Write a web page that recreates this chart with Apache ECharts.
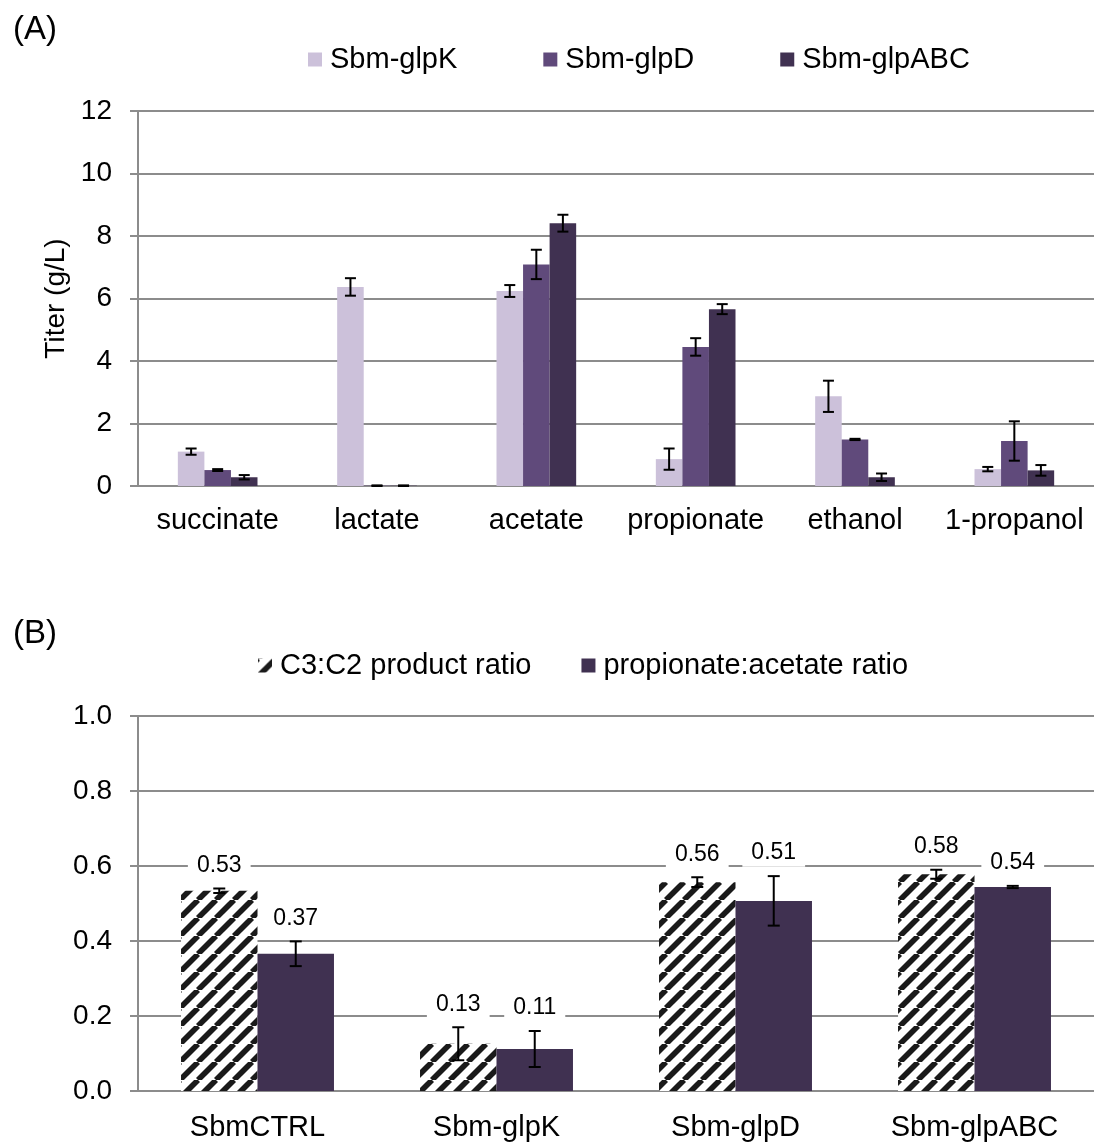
<!DOCTYPE html>
<html>
<head>
<meta charset="utf-8">
<script src="https://cdn.jsdelivr.net/npm/echarts@6/dist/echarts.min.js"></script>
<style>
  html, body { margin: 0; padding: 0; background: #fff; }
  #chart { width: 1094px; height: 1143px; }
</style>
</head>
<body>
<div id="chart"></div>
<script>
// ---- Panel (A): product titers (g/L) ----
const products = ['succinate', 'lactate', 'acetate', 'propionate', 'ethanol', '1-propanol'];
const strainsA = ['Sbm-glpK', 'Sbm-glpD', 'Sbm-glpABC'];
const titerGlpK   = [1.10, 6.37, 6.24, 0.86, 2.87, 0.54];
const titerGlpD   = [0.51, 0.01, 7.09, 4.45, 1.49, 1.44];
const titerGlpABC = [0.28, 0.01, 8.41, 5.66, 0.28, 0.50];
const errGlpK     = [0.10, 0.28, 0.19, 0.34, 0.50, 0.07];
const errGlpD     = [0.03, 0.01, 0.47, 0.28, 0.02, 0.63];
const errGlpABC   = [0.07, 0.01, 0.27, 0.16, 0.12, 0.17];
const titerTicks  = { min: 0, max: 12, step: 2 };

// ---- Panel (B): product ratios ----
const strainsB = ['SbmCTRL', 'Sbm-glpK', 'Sbm-glpD', 'Sbm-glpABC'];
const ratioNames = ['C3:C2 product ratio', 'propionate:acetate ratio'];
const c3c2Ratio     = [0.534, 0.126, 0.557, 0.578];
const propAcetRatio = [0.366, 0.112, 0.507, 0.544];
const errC3C2       = [0.006, 0.044, 0.013, 0.012];
const errPropAcet   = [0.033, 0.048, 0.066, 0.003];
const ratioTicks    = { min: 0, max: 1, step: 0.2 };

const FONT = '"Liberation Sans", Arial, Helvetica, sans-serif';
const GRID_GRAY = '#8c8c8c';
const colorsA = ['#ccc1da', '#604a7b', '#403151'];
const solidB = '#403151';

// diagonal black/white stripe tile for the C3:C2 bars
function makeHatch() {
  const s = 18;
  const c = document.createElement('canvas');
  c.width = s; c.height = s;
  const g = c.getContext('2d');
  g.fillStyle = '#ffffff';
  g.fillRect(0, 0, s, s);
  g.strokeStyle = '#1a1a1a';
  g.lineWidth = 5.6;
  for (const o of [-s, 0, s]) {
    g.beginPath();
    g.moveTo(o, s);
    g.lineTo(o + s, 0);
    g.stroke();
  }
  return c;
}
const hatch = { image: makeHatch(), repeat: 'repeat' };

// error bars (and optional value labels) drawn on top of grouped bars
function errorSeries(axisIdx, values, errs, slot, nSlots, groupFrac, capW, withLabel) {
  return {
    type: 'custom',
    xAxisIndex: axisIdx,
    yAxisIndex: axisIdx,
    z: 10,
    silent: true,
    data: values.map((v, i) => [i, v, errs[i]]),
    encode: { x: 0, y: 1 },
    renderItem(params, api) {
      const i = api.value(0), v = api.value(1), e = api.value(2);
      const band = api.size([1, 0])[0];
      const barW = band * groupFrac / nSlots;
      const cx = api.coord([i, 0])[0] + (slot - (nSlots - 1) / 2) * barW;
      const yHi = api.coord([i, v + e])[1];
      const yLo = api.coord([i, Math.max(v - e, 0)])[1];
      const ls = { stroke: '#000', lineWidth: 2 };
      const children = [
        { type: 'line', shape: { x1: cx, y1: yHi, x2: cx, y2: yLo }, style: ls },
        { type: 'line', shape: { x1: cx - capW / 2, y1: yHi, x2: cx + capW / 2, y2: yHi }, style: ls },
        { type: 'line', shape: { x1: cx - capW / 2, y1: yLo, x2: cx + capW / 2, y2: yLo }, style: ls }
      ];
      if (withLabel) {
        children.push({
          type: 'text',
          x: cx, y: yHi - 23,
          style: {
            text: v.toFixed(2),
            fill: '#000',
            font: '23px ' + FONT,
            align: 'center',
            verticalAlign: 'middle',
            backgroundColor: '#fff',
            padding: [2, 9]
          }
        });
      }
      return { type: 'group', children };
    }
  };
}

const axisLabelStyle = { color: '#000', fontSize: 28, fontFamily: FONT };
const catLabelStyle = { color: '#000', fontSize: 29, fontFamily: FONT, interval: 0 };

const option = {
  animation: false,
  backgroundColor: '#fff',
  title: [
    { text: '(A)', left: 8, top: 8, textStyle: { fontSize: 33, fontWeight: 'normal', color: '#000', fontFamily: FONT } },
    { text: '(B)', left: 8, top: 612, textStyle: { fontSize: 33, fontWeight: 'normal', color: '#000', fontFamily: FONT } }
  ],
  legend: [
    {
      data: strainsA, left: 308, top: 45, padding: 0,
      itemWidth: 14, itemHeight: 14, itemGap: 86, icon: 'rect',
      textStyle: { color: '#000', fontSize: 29, fontFamily: FONT, padding: [0, 0, 0, 3] }
    },
    {
      data: ratioNames, left: 258, top: 651, padding: 0,
      itemWidth: 14, itemHeight: 14, itemGap: 50, icon: 'rect',
      textStyle: { color: '#000', fontSize: 29, fontFamily: FONT, padding: [0, 0, 0, 3] }
    }
  ],
  grid: [
    { left: 138, top: 111, width: 958, height: 375 },
    { left: 138, top: 716, width: 961, height: 375 }
  ],
  xAxis: [
    {
      type: 'category', gridIndex: 0, data: products,
      axisLine: { lineStyle: { color: GRID_GRAY, width: 2 } },
      axisTick: { show: false },
      axisLabel: Object.assign({ margin: 20 }, catLabelStyle)
    },
    {
      type: 'category', gridIndex: 1, data: strainsB,
      axisLine: { lineStyle: { color: GRID_GRAY, width: 2 } },
      axisTick: { show: false },
      axisLabel: Object.assign({ margin: 22 }, catLabelStyle)
    }
  ],
  yAxis: [
    {
      type: 'value', gridIndex: 0,
      min: titerTicks.min, max: titerTicks.max, interval: titerTicks.step,
      name: 'Titer (g/L)', nameLocation: 'middle', nameRotate: 90, nameGap: 66,
      nameTextStyle: { color: '#000', fontSize: 28, fontFamily: FONT },
      axisLine: { show: true, lineStyle: { color: GRID_GRAY, width: 2 } },
      axisTick: { show: true, length: 8, lineStyle: { color: GRID_GRAY, width: 2 } },
      splitLine: { lineStyle: { color: GRID_GRAY, width: 2 } },
      axisLabel: Object.assign({ margin: 26 }, axisLabelStyle)
    },
    {
      type: 'value', gridIndex: 1,
      min: ratioTicks.min, max: ratioTicks.max, interval: ratioTicks.step,
      axisLine: { show: true, lineStyle: { color: GRID_GRAY, width: 2 } },
      axisTick: { show: true, length: 8, lineStyle: { color: GRID_GRAY, width: 2 } },
      splitLine: { lineStyle: { color: GRID_GRAY, width: 2 } },
      axisLabel: Object.assign({ margin: 26, formatter: v => v.toFixed(1) }, axisLabelStyle)
    }
  ],
  series: [
    { name: strainsA[0], type: 'bar', xAxisIndex: 0, yAxisIndex: 0, data: titerGlpK,
      barGap: '0%', barCategoryGap: '50%', itemStyle: { color: colorsA[0] } },
    { name: strainsA[1], type: 'bar', xAxisIndex: 0, yAxisIndex: 0, data: titerGlpD,
      barGap: '0%', barCategoryGap: '50%', itemStyle: { color: colorsA[1] } },
    { name: strainsA[2], type: 'bar', xAxisIndex: 0, yAxisIndex: 0, data: titerGlpABC,
      barGap: '0%', barCategoryGap: '50%', itemStyle: { color: colorsA[2] } },
    errorSeries(0, titerGlpK, errGlpK, 0, 3, 0.5, 11, false),
    errorSeries(0, titerGlpD, errGlpD, 1, 3, 0.5, 11, false),
    errorSeries(0, titerGlpABC, errGlpABC, 2, 3, 0.5, 11, false),

    { name: ratioNames[0], type: 'bar', xAxisIndex: 1, yAxisIndex: 1, data: c3c2Ratio,
      barGap: '0%', barCategoryGap: '36%', itemStyle: { color: hatch } },
    { name: ratioNames[1], type: 'bar', xAxisIndex: 1, yAxisIndex: 1, data: propAcetRatio,
      barGap: '0%', barCategoryGap: '36%', itemStyle: { color: solidB } },
    errorSeries(1, c3c2Ratio, errC3C2, 0, 2, 0.64, 12, true),
    errorSeries(1, propAcetRatio, errPropAcet, 1, 2, 0.64, 12, true)
  ]
};

const chart = echarts.init(document.getElementById('chart'), null, { renderer: 'canvas' });
chart.setOption(option);
</script>
</body>
</html>
